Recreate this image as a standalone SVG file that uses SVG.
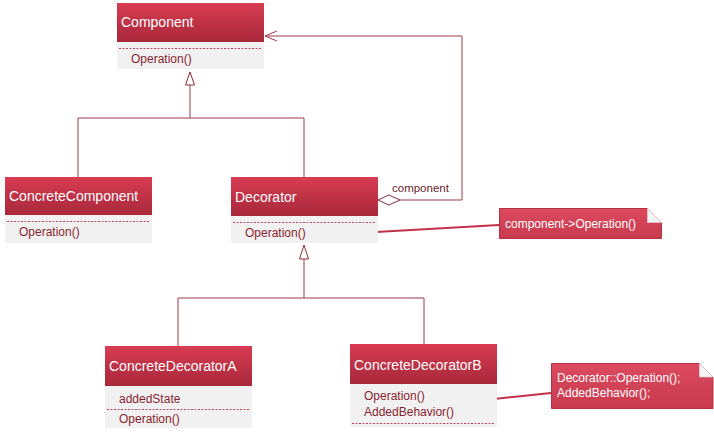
<svg xmlns="http://www.w3.org/2000/svg" width="714" height="434" viewBox="0 0 714 434">
<defs>
<linearGradient id="hg" x1="0" y1="0" x2="0" y2="1">
<stop offset="0" stop-color="#d83c52"/>
<stop offset="1" stop-color="#a8283a"/>
</linearGradient>
<linearGradient id="ng" x1="0" y1="0" x2="0" y2="1">
<stop offset="0" stop-color="#dc4a5e"/>
<stop offset="1" stop-color="#c83a4e"/>
</linearGradient>
<marker id="tri" markerWidth="12" markerHeight="16" refX="0" refY="7" orient="auto" markerUnits="userSpaceOnUse">
<path d="M0,7 L13,2.5 L13,11.5 Z" fill="#fff" stroke="#8e2a3a" stroke-width="1"/>
</marker>
</defs>
<style>
.hd{fill:url(#hg);}
.bd{fill:#f1f1f1;}
.ht{font-family:"Liberation Sans",Arial,sans-serif;font-size:14px;fill:#fff;}
.bt{font-family:"Liberation Sans",Arial,sans-serif;font-size:12px;fill:#8a1f30;}
.dash{stroke:#c24556;stroke-width:1;stroke-dasharray:2,1.5;fill:none;}
.ln{stroke:#9e3a4a;stroke-width:1;fill:none;}
.nl{stroke:#c2304a;stroke-width:2;fill:none;}
.note{fill:url(#ng);stroke:#b83246;stroke-width:1;}
.nt{font-family:"Liberation Sans",Arial,sans-serif;font-size:12px;fill:#fff;}
.lbl{font-family:"Liberation Sans",Arial,sans-serif;font-size:11.5px;fill:#6a1e2a;}
</style>

<g id="connectors">
<!-- generalization to Component -->
<polyline class="ln" points="78,177 78,118 304,118 304,177"/>
<line class="ln" x1="190" y1="118" x2="190" y2="85"/>
<path d="M190,72 L185.5,85 L194.5,85 Z" fill="#fff" stroke="#8e2a3a" stroke-width="1"/>
<!-- generalization to Decorator -->
<polyline class="ln" points="178,346 178,298 424,298 424,344"/>
<line class="ln" x1="304" y1="298" x2="304" y2="259"/>
<path d="M304,245 L299.5,259 L308.5,259 Z" fill="#fff" stroke="#8e2a3a" stroke-width="1"/>
<!-- aggregation component -->
<polyline class="ln" points="400,200 462,200 462,36 265,36"/>
<polyline class="ln" points="277,31 265,36 277,41"/>
<path d="M378,200 L389,195 L400,200 L389,205 Z" fill="#fff" stroke="#8e2a3a" stroke-width="1"/>
<text class="lbl" x="392" y="192">component</text>
<!-- note lines -->
<line class="nl" x1="376" y1="232" x2="499" y2="225"/>
<line class="nl" x1="494" y1="399" x2="551" y2="393"/>
</g>

<g id="Component">
<rect class="hd" x="117" y="3" width="147" height="39"/>
<rect class="bd" x="117" y="42" width="147" height="27"/>
<line class="dash" x1="119" y1="48.5" x2="262" y2="48.5"/>
<text class="ht" x="121" y="27">Component</text>
<text class="bt" x="131" y="63">Operation()</text>
</g>

<g id="ConcreteComponent">
<rect class="hd" x="5" y="177" width="147" height="38"/>
<rect class="bd" x="5" y="215" width="147" height="28"/>
<line class="dash" x1="7" y1="221.5" x2="150" y2="221.5"/>
<text class="ht" x="9" y="201">ConcreteComponent</text>
<text class="bt" x="19" y="236">Operation()</text>
</g>

<g id="Decorator">
<rect class="hd" x="231" y="177" width="147" height="39"/>
<rect class="bd" x="231" y="216" width="147" height="27"/>
<line class="dash" x1="233" y1="222.5" x2="376" y2="222.5"/>
<text class="ht" x="235" y="202">Decorator</text>
<text class="bt" x="245" y="237">Operation()</text>
</g>

<g id="ConcreteDecoratorA">
<rect class="hd" x="105" y="346" width="147" height="40"/>
<rect class="bd" x="105" y="386" width="147" height="42"/>
<line class="dash" x1="107" y1="409.5" x2="250" y2="409.5"/>
<text class="ht" x="109" y="371">ConcreteDecoratorA</text>
<text class="bt" x="119" y="403">addedState</text>
<text class="bt" x="119" y="423">Operation()</text>
</g>

<g id="ConcreteDecoratorB">
<rect class="hd" x="350" y="344" width="147" height="40"/>
<rect class="bd" x="350" y="384" width="147" height="43"/>
<line class="dash" x1="352" y1="423.5" x2="495" y2="423.5"/>
<text class="ht" x="354" y="370">ConcreteDecoratorB</text>
<text class="bt" x="364" y="400">Operation()</text>
<text class="bt" x="364" y="416">AddedBehavior()</text>
</g>

<g id="Note1">
<path class="note" d="M499.5,208.5 H647.5 L661.5,222.5 V238.5 H499.5 Z"/>
<path d="M647.5,208.5 L661.5,222.5 L647.5,222.5 Z" fill="#f4f4f4" stroke="#e0c8cc" stroke-width="0.8"/>
<text class="nt" x="505" y="228">component-&gt;Operation()</text>
</g>

<g id="Note2">
<path class="note" d="M551.5,363.5 H699.5 L713,377 V408.5 H551.5 Z"/>
<path d="M699.5,363.5 L713,377 L699.5,377 Z" fill="#f4f4f4" stroke="#e0c8cc" stroke-width="0.8"/>
<text class="nt" x="557" y="382">Decorator::Operation();</text>
<text class="nt" x="557" y="397">AddedBehavior();</text>
</g>
</svg>
